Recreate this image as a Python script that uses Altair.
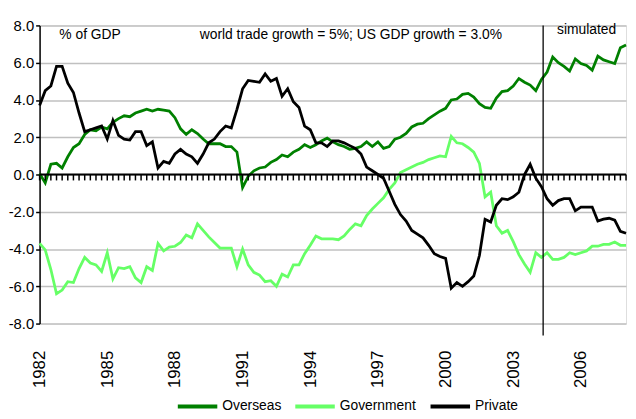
import altair as alt
import pandas as pd

# ---- data (percent of GDP, quarterly from 1982Q1) ----
overseas = [0.05, -0.45, 0.55, 0.6, 0.35, 0.95, 1.45, 1.65, 2.15, 2.4,
            2.35, 2.55, 2.45, 2.8, 3.0, 3.15, 3.1, 3.3, 3.4, 3.5,
            3.4, 3.5, 3.45, 3.4, 3.05, 2.45, 2.15, 2.4, 2.2, 1.9,
            1.65, 1.65, 1.65, 1.5, 1.5, 1.2, -0.7, -0.1, 0.2, 0.35,
            0.4, 0.65, 0.8, 1.05, 0.95, 1.2, 1.35, 1.6, 1.45, 1.6,
            1.8, 1.95, 1.75, 1.6, 1.5, 1.35, 1.4, 1.5, 1.75, 1.5,
            1.75, 1.4, 1.5, 1.9, 2.0, 2.2, 2.55, 2.7, 2.75, 3.0,
            3.2, 3.4, 3.55, 4.0, 4.05, 4.3, 4.35, 4.15, 3.8, 3.6,
            3.55, 4.1, 4.45, 4.5, 4.75, 5.15, 4.95, 4.8, 4.5, 5.1,
            5.5, 6.3, 6.0, 5.8, 5.55, 6.2, 5.95, 5.85, 5.6, 6.35,
            6.15, 6.05, 5.95, 6.8, 6.95]

government = [-3.7, -4.05, -5.1, -6.4, -6.2, -5.75, -5.8, -5.05, -4.45, -4.75,
              -4.85, -5.2, -4.2, -5.6, -5.0, -5.05, -4.95, -5.55, -5.8, -4.95,
              -5.15, -3.7, -4.1, -3.9, -3.85, -3.65, -3.25, -3.4, -2.65, -3.0,
              -3.35, -3.65, -3.95, -3.95, -3.95, -4.95, -4.0, -4.85, -5.25, -5.4,
              -5.75, -5.7, -6.0, -5.35, -5.5, -4.85, -4.85, -4.25, -3.8, -3.3,
              -3.45, -3.45, -3.45, -3.5, -3.3, -2.95, -2.65, -2.75, -2.2, -1.85,
              -1.55, -1.25, -0.8, -0.45, 0.1, 0.25, 0.4, 0.55, 0.65, 0.8,
              0.9, 1.0, 0.95, 2.05, 1.7, 1.65, 1.45, 1.2, 0.6, -1.2,
              -0.95, -2.75, -3.15, -3.0, -3.6, -4.3, -4.8, -5.25, -4.2, -4.45,
              -4.2, -4.55, -4.55, -4.45, -4.2, -4.3, -4.2, -4.1, -3.85, -3.85,
              -3.75, -3.75, -3.62, -3.8, -3.8]

private = [3.7, 4.5, 4.75, 5.8, 5.8, 4.9, 4.4, 3.3, 2.3, 2.4,
           2.5, 2.6, 1.9, 2.9, 2.1, 1.9, 1.85, 2.3, 2.3, 1.55,
           1.75, 0.35, 0.7, 0.6, 1.1, 1.35, 1.1, 0.95, 0.6, 1.1,
           1.7, 1.9, 2.3, 2.6, 2.5, 3.5, 4.6, 5.05, 5.0, 4.95,
           5.4, 5.0, 5.15, 4.2, 4.6, 3.9, 3.6, 2.6, 2.4, 1.7,
           1.7, 1.5, 1.8, 1.8, 1.7, 1.55, 1.4, 1.1, 0.4, 0.2,
           0.0, -0.2, -0.9, -1.6, -2.15, -2.5, -3.0, -3.2, -3.4, -3.8,
           -4.25, -4.4, -4.5, -6.1, -5.8, -6.0, -5.75, -5.45, -4.35, -2.4,
           -2.55, -1.65, -1.3, -1.35, -1.2, -0.95, 0.0, 0.55, -0.2, -0.65,
           -1.3, -1.65, -1.4, -1.3, -1.3, -1.95, -1.75, -1.75, -1.75, -2.5,
           -2.4, -2.35, -2.45, -3.05, -3.15]

series_names = ["Overseas", "Government", "Private"]
series_colors = ["#008000", "#66ff66", "#000000"]
first_year = 1982
label_years = [1982, 1985, 1988, 1991, 1994, 1997, 2000, 2003, 2006]
y_ticks = [-8, -6, -4, -2, 0, 2, 4, 6, 8]
sim_start = 89.3  # quarter index where the simulation begins

annot_text = ["% of GDP", "world trade growth = 5%; US GDP growth = 3.0%", "simulated"]
annot_q = [3.5, 55.2, 97.0]
annot_v = [7.5, 7.5, 7.75]
annot_align = ["left", "center", "center"]

# ---- layout / style ----
W, H = 594, 302
FONT = "Liberation Sans, Arial, sans-serif"
px_per_unit = H / (y_ticks[-1] - y_ticks[0])

n = len(overseas)
quarters = list(range(n))

rows = []
for name, vals in zip(series_names, [overseas, government, private]):
    for q, v in zip(quarters, vals):
        rows.append({"q": q, "value": v, "series": name})
df = pd.DataFrame(rows)

x_scale = alt.Scale(domain=[0, n - 1], nice=False, zero=False)
y_scale = alt.Scale(domain=[y_ticks[0], y_ticks[-1]], nice=False, zero=False)

label_positions = [(yr - first_year) * 4 for yr in label_years]

lines = alt.Chart(df).mark_line(strokeWidth=2.8).encode(
    x=alt.X("q:Q", scale=x_scale, title=None,
            axis=alt.Axis(values=label_positions,
                          labelExpr=f"toString({first_year} + datum.value / 4)",
                          domain=False, ticks=False, grid=False,
                          labelAngle=270, labelAlign="right", labelBaseline="middle",
                          labelPadding=27, labelFont=FONT, labelFontSize=17,
                          labelColor="black", labelOverlap=False)),
    y=alt.Y("value:Q", scale=y_scale, title=None,
            axis=alt.Axis(values=y_ticks, tickCount=len(y_ticks),
                          labelExpr="replace(format(datum.value, '.1f'), '\u2212', '-')",
                          grid=True, gridColor="#c0c0c0", gridWidth=1.5,
                          domainColor="black", domainWidth=1.5,
                          tickColor="black", tickSize=4, tickWidth=1.5,
                          labelPadding=2, labelFont=FONT, labelFontSize=15,
                          labelColor="black", labelOverlap=False)),
    color=alt.Color("series:N",
                    scale=alt.Scale(domain=series_names, range=series_colors),
                    sort=series_names,
                    legend=alt.Legend(orient="none", legendX=138, legendY=364,
                                      direction="horizontal", title=None,
                                      symbolType="stroke", symbolSize=1600,
                                      symbolStrokeWidth=4, labelFont=FONT,
                                      labelFontSize=14, labelColor="black",
                                      labelOffset=3, columnPadding=6)),
)

zero_df = pd.DataFrame({"q0": [quarters[0]], "q1": [quarters[-1]], "y": [0]})
zero_line = alt.Chart(zero_df).mark_rule(color="black", strokeWidth=2).encode(
    x=alt.X("q0:Q", scale=x_scale, title=None),
    x2="q1:Q",
    y=alt.Y("y:Q", scale=y_scale, title=None),
)

tick_len = 6 / px_per_unit
tick_df = pd.DataFrame({"q": quarters, "y0": [0] * n, "y1": [-tick_len] * n})
tick_marks = alt.Chart(tick_df).mark_rule(color="black", strokeWidth=1.5).encode(
    x=alt.X("q:Q", scale=x_scale, title=None),
    y=alt.Y("y0:Q", scale=y_scale, title=None),
    y2="y1:Q",
)

vline_df = pd.DataFrame({"q": [sim_start], "top": [y_ticks[-1]],
                         "bottom": [y_ticks[0] - 12 / px_per_unit]})
vline = alt.Chart(vline_df).mark_rule(color="black", strokeWidth=1.3).encode(
    x=alt.X("q:Q", scale=x_scale, title=None),
    y=alt.Y("top:Q", scale=y_scale, title=None),
    y2="bottom:Q",
)

annot_df = pd.DataFrame({"q": annot_q, "v": annot_v, "text": annot_text,
                         "align": annot_align})
annots = []
for al in ["left", "center"]:
    annots.append(
        alt.Chart(annot_df[annot_df["align"] == al]).mark_text(
            align=al, baseline="middle", font=FONT, fontSize=14, color="black"
        ).encode(
            x=alt.X("q:Q", scale=x_scale, title=None),
            y=alt.Y("v:Q", scale=y_scale, title=None),
            text="text:N",
        )
    )

chart = alt.layer(lines, zero_line, tick_marks, vline, *annots).properties(
    width=W, height=H,
    autosize=alt.AutoSizeParams(type="none"),
    padding={"left": 32, "top": 15, "right": 2, "bottom": 93},
).configure_view(stroke=None).configure(background="white").configure_axis(
    labelOverlap=False
)

chart.save("out.html", embed_options={"renderer": "svg", "actions": False})
